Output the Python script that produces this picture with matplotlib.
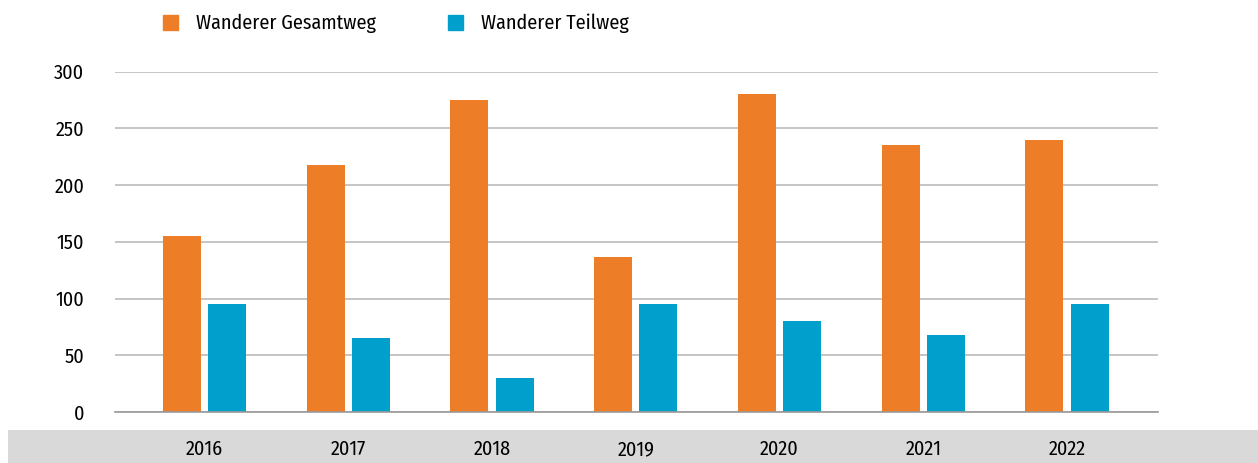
import matplotlib
matplotlib.use('Agg')
import matplotlib.pyplot as plt
import numpy as np
from matplotlib.patches import Patch, Rectangle
from matplotlib import font_manager as fm

years = ['2016', '2017', '2018', '2019', '2020', '2021', '2022']
gesamtweg = [155, 218, 275, 137, 280, 235, 240]
teilweg = [95, 65, 30, 95, 80, 68, 95]
yticks = [0, 50, 100, 150, 200, 250, 300]
series_names = ['Wanderer Gesamtweg', 'Wanderer Teilweg']

ORANGE = '#ED7D27'
BLUE = '#009FCC'

# condensed sans, take whatever is installed
installed = {f.name for f in fm.fontManager.ttflist}
wanted = ['Fira Sans Condensed', 'Roboto Condensed', 'Archivo Narrow',
          'PT Sans Narrow', 'Liberation Sans Narrow']
fam = [f for f in wanted if f in installed][:1] + ['DejaVu Sans']
plt.rcParams['font.family'] = fam

W, H = 1258, 463
fig = plt.figure(figsize=(W / 100, H / 100), dpi=100)

# grey band under the chart
fig.patches.append(Rectangle((8 / W, 0), 1 - 8 / W, 33 / H, transform=fig.transFigure,
                             facecolor='#D9D9D9', edgecolor='none', zorder=-5))

# axes placed in pixel coords
left, right, top, bottom = 115, 1158, 71.5, 412
ax = fig.add_axes([left / W, 1 - bottom / H, (right - left) / W, (bottom - top) / H])
ax.set_zorder(2)
ax.patch.set_alpha(0)

x = np.arange(len(years))
bw = 0.264
off = 0.157
ax.bar(x - off, gesamtweg, bw, color=ORANGE, zorder=3)
ax.bar(x + off, teilweg, bw, color=BLUE, zorder=3)

ax.set_xlim(-0.623, 6.633)
ax.set_ylim(0, 300)
ax.set_yticks(yticks)
ax.set_xticks(x)
ax.set_xticklabels(years, fontsize=14.5)
ax.tick_params(axis='x', length=0, pad=20)
ax.tick_params(axis='y', length=0, pad=22, labelsize=14.5)
ax.grid(axis='y', color='#BBBBBB', linewidth=1.2, zorder=0)
for s in ['top', 'right', 'left']:
    ax.spines[s].set_visible(False)
ax.spines['bottom'].set_color('#999999')
ax.spines['bottom'].set_linewidth(1.2)
ax.spines['bottom'].set_zorder(4)

# one legend per entry so each sits where the reference has it
for name, col, px in zip(series_names, [ORANGE, BLUE], [163, 448]):
    fig.legend(handles=[Patch(color=col, label=name)], loc='upper left',
               bbox_to_anchor=(px / W, 1 - 14 / H), frameon=False, fontsize=14.5,
               handlelength=0.75, handleheight=0.8, handletextpad=0.9,
               borderpad=0, borderaxespad=0)

fig.savefig('out.png', dpi=100)
